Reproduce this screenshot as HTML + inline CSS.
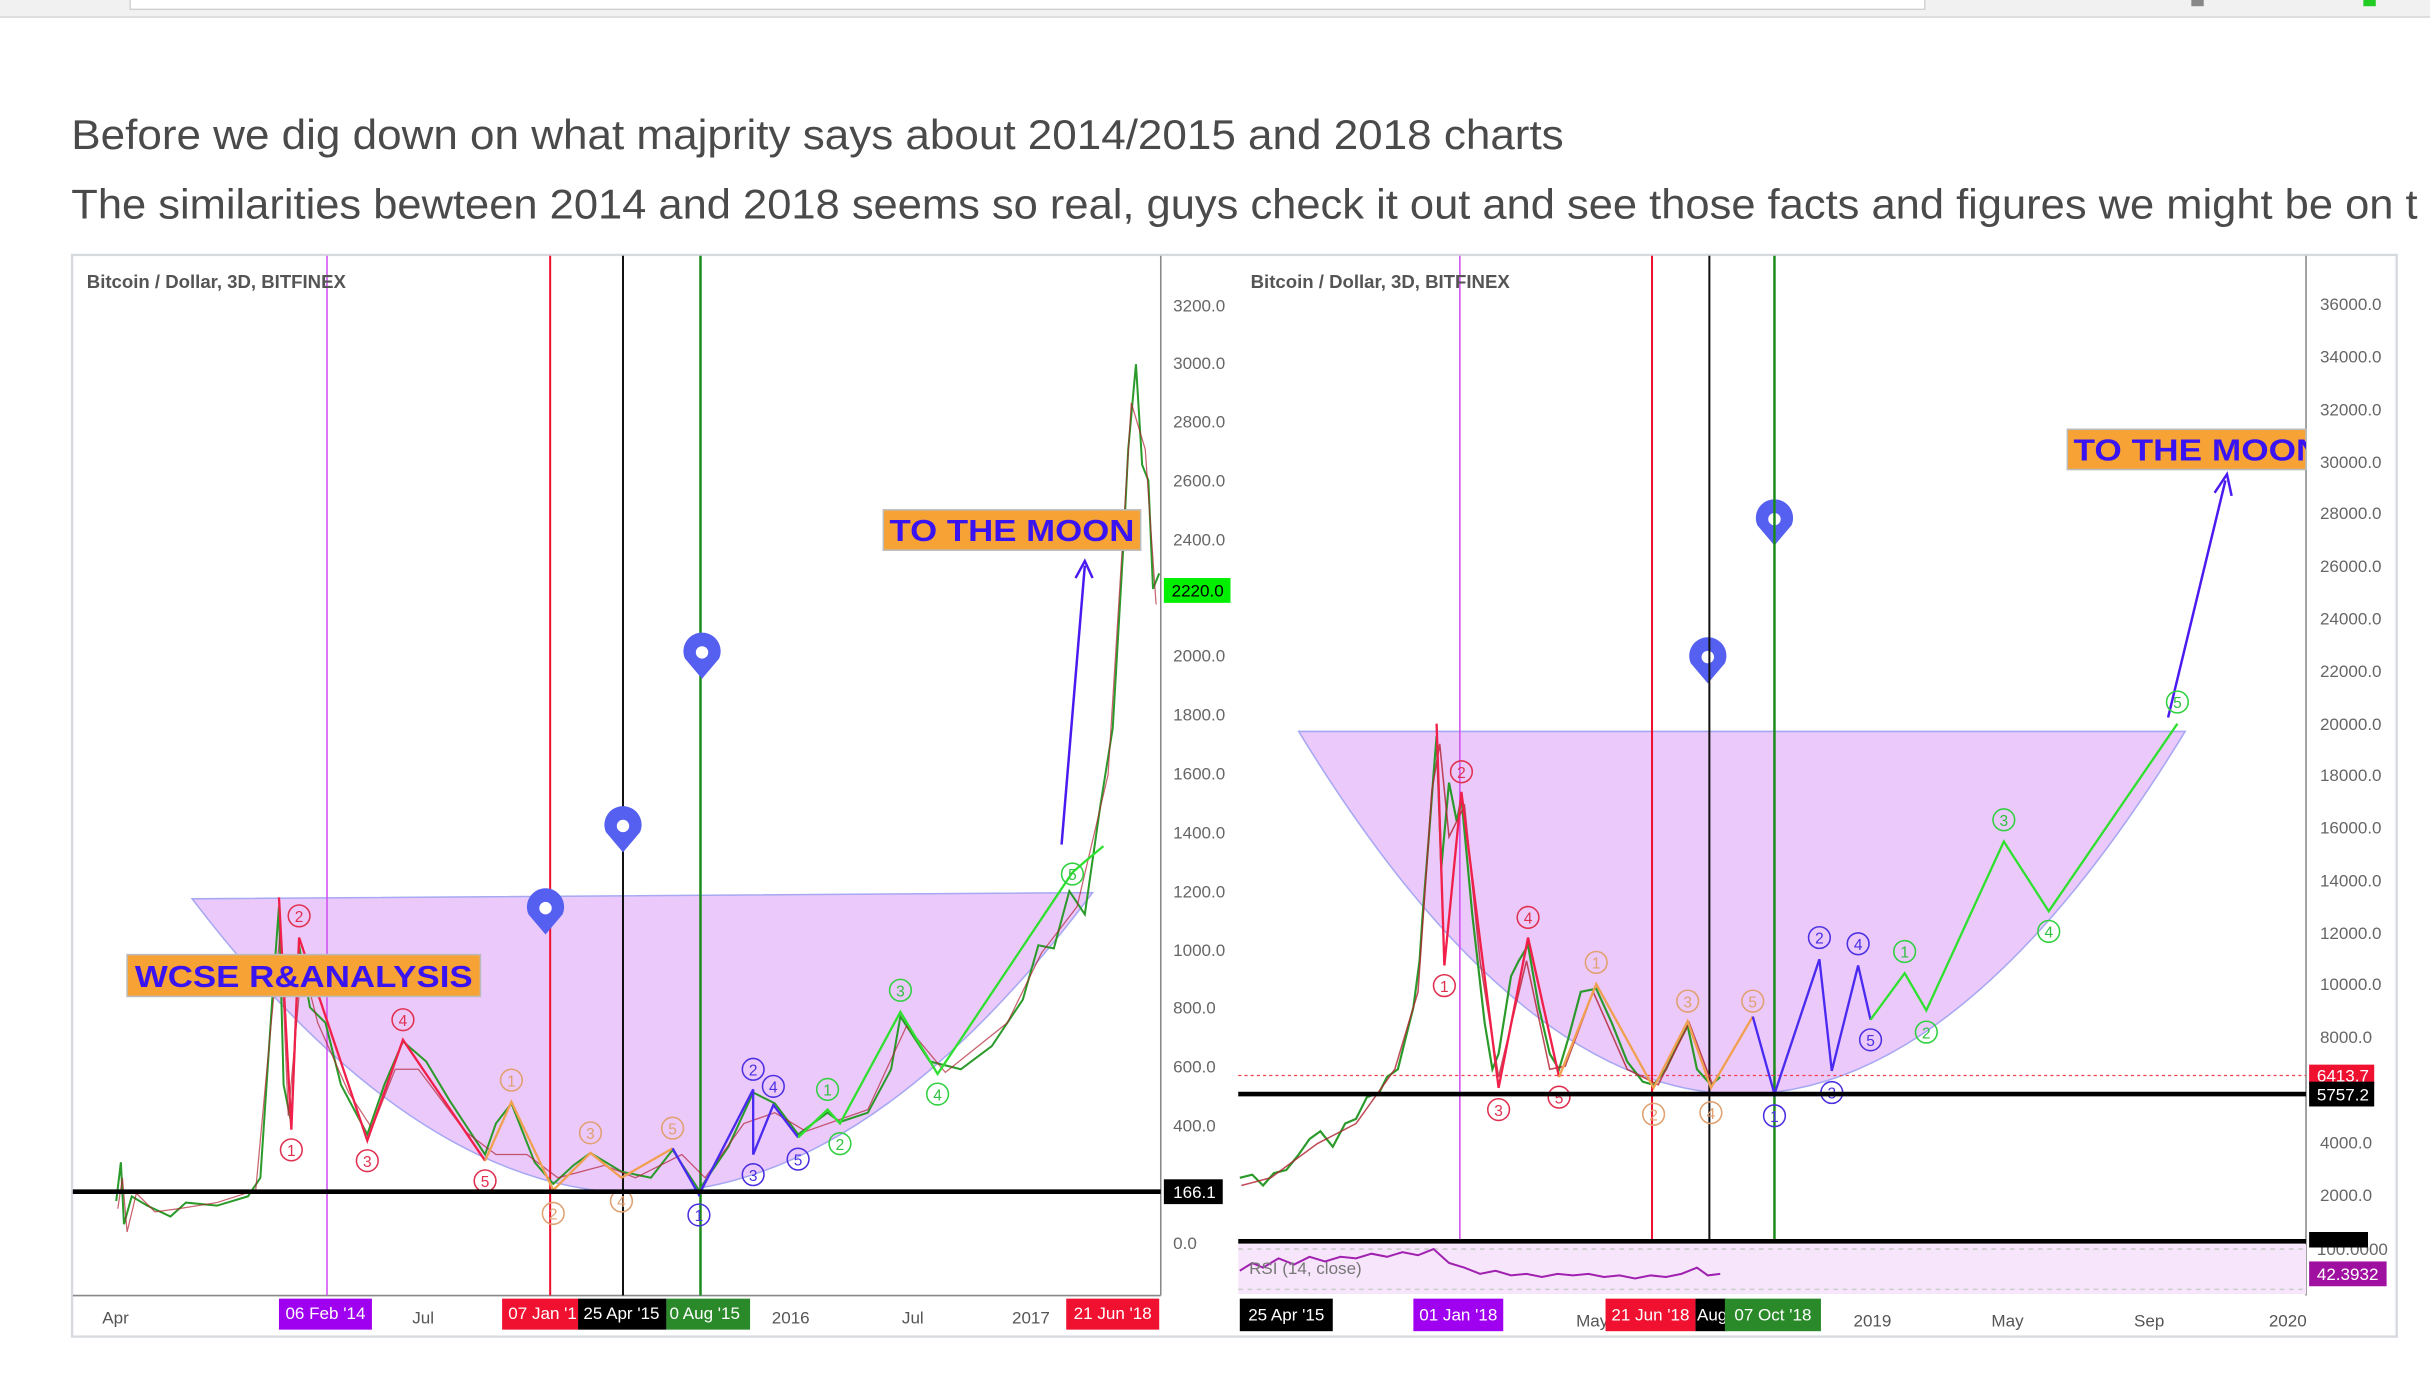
<!DOCTYPE html>
<html><head><meta charset="utf-8"><style>
html,body{margin:0;padding:0;background:#fff;width:2430px;height:1380px;overflow:hidden}
svg{display:block}
text{font-family:"Liberation Sans",sans-serif}
</style></head><body>
<svg width="2430" height="1380" viewBox="0 0 1568 890.5" preserveAspectRatio="none" xmlns="http://www.w3.org/2000/svg">
<rect x="0" y="0" width="1568" height="11" fill="#f1f1f1"/>
<line x1="0" y1="11" x2="1568" y2="11" stroke="#d8d8d8" stroke-width="1"/>
<rect x="84" y="-2" width="1158" height="8" fill="#fff" stroke="#ccc" stroke-width="0.8"/>
<rect x="1414" y="0" width="8" height="4" fill="#888"/>
<rect x="1525" y="0" width="8" height="4" fill="#2c2"/>
<text x="46" y="96" font-size="27" fill="#4a4a4a" textLength="963" lengthAdjust="spacingAndGlyphs">Before we dig down on what majprity says about 2014/2015 and 2018 charts</text>
<text x="46" y="141" font-size="27" fill="#4a4a4a" textLength="1514" lengthAdjust="spacingAndGlyphs">The similarities bewteen 2014 and 2018 seems so real, guys check it out and see those facts and figures we might be on t</text>

<rect x="46.5" y="164.5" width="1500" height="698" fill="#fff" stroke="#d6d9de" stroke-width="1.5"/>

<!-- LEFT CHART -->
<line x1="749" y1="165" x2="749" y2="836" stroke="#888" stroke-width="1"/>
<line x1="47" y1="836" x2="749" y2="836" stroke="#888" stroke-width="1"/>
<path d="M124,580 L705,576 Q415,962 124,580 Z" fill="#ecc9fb" stroke="#a6a8f2" stroke-width="1"/>
<line x1="211" y1="165" x2="211" y2="836" stroke="#d050f0" stroke-width="1"/>
<line x1="355" y1="165" x2="355" y2="836" stroke="#f01030" stroke-width="1.3"/>
<line x1="402" y1="165" x2="402" y2="836" stroke="#111" stroke-width="1.3"/>
<line x1="452" y1="165" x2="452" y2="836" stroke="#1a8a1a" stroke-width="1.6"/>
<text x="56" y="186" font-size="12" font-weight="bold" fill="#555">Bitcoin / Dollar, 3D, BITFINEX</text>
<polyline fill="none" stroke="#2a9a2a" stroke-width="1.3" points="75,775 78,750 80,790 85,772 95,778 110,785 120,776 140,778 160,772 168,760 172,700 176,640 180,585 183,700 188,725 193,610 200,650 210,660 220,700 237,732 248,700 260,672 275,685 290,710 313,745 320,725 330,712 345,750 357,764 370,752 381,744 401,756 420,760 434,742 451,768 470,740 486,705 500,712 515,732 534,718 542,724 560,718 575,690 581,656 600,685 620,690 640,675 660,645 670,610 680,612 690,575 700,590 710,520 718,470 725,350 728,290 733,235 737,300 741,310 744,380 748,370"/>
<polyline fill="none" stroke="#b02030" stroke-width="0.8" opacity="0.7" points="76,780 79,760 82,795 88,770 100,782 115,780 140,776 165,768 175,660 181,600 186,720 195,620 205,660 225,705 240,728 255,690 270,690 300,730 320,745 340,745 360,760 390,752 410,760 440,745 455,760 480,725 500,718 520,730 560,716 585,662 610,692 650,660 672,615 695,585 715,500 730,260 739,290 746,390"/>
<g fill="none" stroke-width="1.5">
<polyline stroke="#f0204a" points="180,579 188,729 193,605 237,736 260,671 313,749"/>
<polyline stroke="#f0a050" points="313,749 330,711 357,768 381,744 401,760 434,741"/>
<polyline stroke="#4a2af0" points="434,741 451,771 486,703 486,745 499,713 515,734"/>
<polyline stroke="#30e030" points="515,734 534,716 542,725 581,653 605,693 692,563 700,556 712,546"/>
</g>
<line x1="685" y1="545" x2="700" y2="365" stroke="#4a1af0" stroke-width="1.6"/>
<polyline points="694,373 700,362 705,373" fill="none" stroke="#4a1af0" stroke-width="1.6"/>
<g fill="none" stroke-width="1">
<g stroke="#e03050"><circle cx="188" cy="742" r="7"/><circle cx="193" cy="591" r="7"/><circle cx="237" cy="749" r="7"/><circle cx="260" cy="658" r="7"/><circle cx="313" cy="762" r="7"/></g>
<g stroke="#e0a070"><circle cx="330" cy="697" r="7"/><circle cx="357" cy="783" r="7"/><circle cx="381" cy="731" r="7"/><circle cx="401" cy="775" r="7"/><circle cx="434" cy="728" r="7"/></g>
<g stroke="#4a30e0"><circle cx="451" cy="784" r="7"/><circle cx="486" cy="690" r="7"/><circle cx="486" cy="758" r="7"/><circle cx="499" cy="701" r="7"/><circle cx="515" cy="748" r="7"/></g>
<g stroke="#30d040"><circle cx="534" cy="703" r="7"/><circle cx="542" cy="738" r="7"/><circle cx="581" cy="639" r="7"/><circle cx="605" cy="706" r="7"/><circle cx="692" cy="564" r="7"/></g>
</g>
<g font-size="10" text-anchor="middle">
<g fill="#e03050"><text x="188" y="746">1</text><text x="193" y="595">2</text><text x="237" y="753">3</text><text x="260" y="662">4</text><text x="313" y="766">5</text></g>
<g fill="#e0a070"><text x="330" y="701">1</text><text x="357" y="787">2</text><text x="381" y="735">3</text><text x="401" y="779">4</text><text x="434" y="732">5</text></g>
<g fill="#4a30e0"><text x="451" y="788">1</text><text x="486" y="694">2</text><text x="486" y="762">3</text><text x="499" y="705">4</text><text x="515" y="752">5</text></g>
<g fill="#30c040"><text x="534" y="707">1</text><text x="542" y="742">2</text><text x="581" y="643">3</text><text x="605" y="710">4</text><text x="692" y="568">5</text></g>
</g>
<line x1="47" y1="769" x2="749" y2="769" stroke="#000" stroke-width="3"/>
<g fill="#5560f0">
<path d="M352,603 L341,590 A12,12 0 1 1 363,590 Z"/><circle cx="352" cy="586" r="4" fill="#fff"/>
<path d="M402,550 L391,537 A12,12 0 1 1 413,537 Z"/><circle cx="402" cy="533" r="4" fill="#fff"/>
<path d="M453,438 L442,425 A12,12 0 1 1 464,425 Z"/><circle cx="453" cy="421" r="4" fill="#fff"/>
<path d="M1067,530 L1056,517 A12,12 0 1 1 1078,517 Z"/><circle cx="1067" cy="513" r="4" fill="#fff"/>
<path d="M1102,441 L1091,428 A12,12 0 1 1 1113,428 Z"/><circle cx="1102" cy="424" r="4" fill="#fff"/>
<path d="M1145,352 L1134,339 A12,12 0 1 1 1156,339 Z"/><circle cx="1145" cy="335" r="4" fill="#fff"/>
</g>
<rect x="570" y="329" width="166" height="26" fill="#f7a235" stroke="#bbb"/>
<text x="653" y="349" font-size="20" font-weight="bold" fill="#3a14f0" text-anchor="middle" textLength="158" lengthAdjust="spacingAndGlyphs">TO THE MOON</text>
<rect x="82" y="616" width="228" height="27" fill="#f7a235" stroke="#bbb"/>
<text x="196" y="637" font-size="20" font-weight="bold" fill="#3a14f0" text-anchor="middle" textLength="218" lengthAdjust="spacingAndGlyphs">WCSE R&amp;ANALYSIS</text>
<g font-size="11" fill="#666">
<text x="757" y="201">3200.0</text><text x="757" y="238">3000.0</text><text x="757" y="276">2800.0</text><text x="757" y="314">2600.0</text><text x="757" y="352">2400.0</text><text x="757" y="427">2000.0</text><text x="757" y="465">1800.0</text><text x="757" y="503">1600.0</text><text x="757" y="541">1400.0</text><text x="757" y="579">1200.0</text><text x="757" y="617">1000.0</text><text x="757" y="654">800.0</text><text x="757" y="692">600.0</text><text x="757" y="730">400.0</text><text x="757" y="806">0.0</text>
</g>
<rect x="751" y="373" width="43" height="16" fill="#00f000"/><text x="756" y="385" font-size="11" fill="#000">2220.0</text>
<rect x="751" y="761" width="38" height="16" fill="#000"/><text x="757" y="773" font-size="11" fill="#fff">166.1</text>
<g font-size="11" fill="#555"><text x="66" y="854">Apr</text><text x="266" y="854">Jul</text><text x="498" y="854">2016</text><text x="582" y="854">Jul</text><text x="653" y="854">2017</text></g>
<rect x="180" y="838" width="60" height="20" fill="#a000f0"/><text x="210" y="851" font-size="11" fill="#fff" text-anchor="middle">06 Feb '14</text>
<rect x="324" y="838" width="49" height="20" fill="#f01030"/><text x="328" y="851" font-size="11" fill="#fff">07 Jan '1</text>
<rect x="373" y="838" width="57" height="20" fill="#000"/><text x="401" y="851" font-size="11" fill="#fff" text-anchor="middle">25 Apr '15</text>
<rect x="430" y="838" width="54" height="20" fill="#2a8a2a"/><text x="432" y="851" font-size="11" fill="#fff">0 Aug '15</text>
<rect x="688" y="838" width="60" height="20" fill="#f01030"/><text x="718" y="851" font-size="11" fill="#fff" text-anchor="middle">21 Jun '18</text>

<!-- RIGHT CHART -->
<line x1="1488" y1="165" x2="1488" y2="836" stroke="#888" stroke-width="1"/>
<path d="M838,472 L1410,472 Q1124,940 838,472 Z" fill="#ecc9fb" stroke="#a6a8f2" stroke-width="1"/>
<rect x="799" y="803" width="689" height="32" fill="#f7e6fb"/>
<line x1="799" y1="806" x2="1488" y2="806" stroke="#ccc" stroke-dasharray="3,3"/>
<line x1="799" y1="832" x2="1488" y2="832" stroke="#ccc" stroke-dasharray="3,3"/>
<line x1="942" y1="165" x2="942" y2="800" stroke="#d050f0" stroke-width="1"/>
<line x1="1066" y1="165" x2="1066" y2="800" stroke="#f01030" stroke-width="1.3"/>
<line x1="1103" y1="165" x2="1103" y2="800" stroke="#111" stroke-width="1.3"/>
<line x1="1145" y1="165" x2="1145" y2="800" stroke="#1a8a1a" stroke-width="1.6"/>
<text x="807" y="186" font-size="12" font-weight="bold" fill="#555">Bitcoin / Dollar, 3D, BITFINEX</text>
<line x1="799" y1="694" x2="1488" y2="694" stroke="#f04050" stroke-width="0.8" stroke-dasharray="2,2"/>
<polyline fill="none" stroke="#2a9a2a" stroke-width="1.4" points="800,760 808,758 815,765 822,757 830,755 838,745 845,735 852,730 860,740 868,725 875,722 882,708 890,705 895,695 902,690 907,670 912,650 916,620 918,590 922,540 925,500 927,475 930,560 935,505 940,530 943,515 950,590 958,660 963,690 967,680 975,630 980,620 986,610 993,650 1000,680 1006,690 1012,670 1020,640 1030,638 1040,660 1050,685 1060,698 1067,700 1075,690 1082,675 1089,662 1095,690 1104,700 1110,695"/>
<polyline fill="none" stroke="#b02030" stroke-width="1" opacity="0.8" points="801,765 820,760 850,738 875,725 900,690 915,640 924,510 929,480 935,540 945,520 955,620 967,695 985,620 1000,690 1010,688 1028,640 1050,690 1070,700 1090,660 1105,700"/>
<g fill="none" stroke-width="1.5">
<polyline stroke="#f0204a" points="927,467 932,623 943,511 967,702 986,605 1006,695"/>
<polyline stroke="#f0a050" points="1006,695 1030,635 1067,702 1089,659 1104,702 1131,656"/>
<polyline stroke="#4a2af0" points="1131,656 1145,706 1174,619 1182,691 1199,623 1207,658"/>
<polyline stroke="#30e030" points="1207,658 1229,628 1243,652 1293,543 1322,588 1405,467"/>
</g>
<line x1="1399" y1="463" x2="1436" y2="310" stroke="#4a1af0" stroke-width="1.6"/>
<polyline points="1429,318 1437,306 1440,320" fill="none" stroke="#4a1af0" stroke-width="1.6"/>
<g fill="none" stroke-width="1">
<g stroke="#e03050"><circle cx="932" cy="636" r="7"/><circle cx="943" cy="498" r="7"/><circle cx="967" cy="716" r="7"/><circle cx="986" cy="592" r="7"/><circle cx="1006" cy="708" r="7"/></g>
<g stroke="#e0a070"><circle cx="1030" cy="621" r="7"/><circle cx="1067" cy="719" r="7"/><circle cx="1089" cy="646" r="7"/><circle cx="1104" cy="718" r="7"/><circle cx="1131" cy="646" r="7"/></g>
<g stroke="#4a30e0"><circle cx="1145" cy="720" r="7"/><circle cx="1174" cy="605" r="7"/><circle cx="1182" cy="705" r="7"/><circle cx="1199" cy="609" r="7"/><circle cx="1207" cy="671" r="7"/></g>
<g stroke="#30d040"><circle cx="1229" cy="614" r="7"/><circle cx="1243" cy="666" r="7"/><circle cx="1293" cy="529" r="7"/><circle cx="1322" cy="601" r="7"/><circle cx="1405" cy="453" r="7"/></g>
</g>
<g font-size="10" text-anchor="middle">
<g fill="#e03050"><text x="932" y="640">1</text><text x="943" y="502">2</text><text x="967" y="720">3</text><text x="986" y="596">4</text><text x="1006" y="712">5</text></g>
<g fill="#e0a070"><text x="1030" y="625">1</text><text x="1067" y="723">2</text><text x="1089" y="650">3</text><text x="1104" y="722">4</text><text x="1131" y="650">5</text></g>
<g fill="#4a30e0"><text x="1145" y="724">1</text><text x="1174" y="609">2</text><text x="1182" y="709">3</text><text x="1199" y="613">4</text><text x="1207" y="675">5</text></g>
<g fill="#30c040"><text x="1229" y="618">1</text><text x="1243" y="670">2</text><text x="1293" y="533">3</text><text x="1322" y="605">4</text><text x="1405" y="457">5</text></g>
</g>
<line x1="799" y1="706" x2="1488" y2="706" stroke="#000" stroke-width="3"/>
<line x1="799" y1="801" x2="1488" y2="801" stroke="#000" stroke-width="3"/>
<polyline fill="none" stroke="#a020b0" stroke-width="1.3" points="800,820 808,815 815,818 825,812 835,816 845,811 855,814 865,811 875,812 885,809 895,811 905,808 915,810 925,806 935,815 945,818 955,822 965,820 975,823 985,822 995,824 1005,822 1015,823 1025,822 1035,824 1045,823 1055,825 1065,823 1075,824 1085,822 1095,818 1102,823 1110,822"/>
<text x="806" y="822" font-size="11" fill="#777">RSI (14, close)</text>
<clipPath id="cl"><rect x="1334" y="270" width="154" height="40"/></clipPath>
<rect x="1334" y="277" width="154" height="26" fill="#f7a235" stroke="#bbb"/>
<text x="1338" y="297" font-size="20" font-weight="bold" fill="#3a14f0" textLength="160" lengthAdjust="spacingAndGlyphs" clip-path="url(#cl)">TO THE MOON</text>
<g font-size="11" fill="#666">
<text x="1497" y="200">36000.0</text><text x="1497" y="234">34000.0</text><text x="1497" y="268">32000.0</text><text x="1497" y="302">30000.0</text><text x="1497" y="335">28000.0</text><text x="1497" y="369">26000.0</text><text x="1497" y="403">24000.0</text><text x="1497" y="437">22000.0</text><text x="1497" y="471">20000.0</text><text x="1497" y="504">18000.0</text><text x="1497" y="538">16000.0</text><text x="1497" y="572">14000.0</text><text x="1497" y="606">12000.0</text><text x="1497" y="639">10000.0</text><text x="1497" y="673">8000.0</text><text x="1497" y="741">4000.0</text><text x="1497" y="775">2000.0</text><text x="1495" y="810">100.0000</text>
</g>
<rect x="1490" y="687" width="42" height="13" fill="#f01030"/><text x="1495" y="698" font-size="11" fill="#fff">6413.7</text>
<rect x="1490" y="698" width="42" height="16" fill="#000"/><text x="1495" y="710" font-size="11" fill="#fff">5757.2</text>
<rect x="1490" y="795" width="38" height="10" fill="#000"/>
<rect x="1490" y="814" width="50" height="16" fill="#a010a0"/><text x="1495" y="826" font-size="11" fill="#fff">42.3932</text>
<g font-size="11" fill="#555"><text x="1017" y="856">May</text><text x="1196" y="856">2019</text><text x="1285" y="856">May</text><text x="1377" y="856">Sep</text><text x="1464" y="856">2020</text></g>
<rect x="800" y="838" width="60" height="21" fill="#000"/><text x="830" y="852" font-size="11" fill="#fff" text-anchor="middle">25 Apr '15</text>
<rect x="912" y="838" width="58" height="21" fill="#a000f0"/><text x="941" y="852" font-size="11" fill="#fff" text-anchor="middle">01 Jan '18</text>
<rect x="1094" y="838" width="20" height="21" fill="#000"/><text x="1095" y="852" font-size="11" fill="#fff">Aug</text>
<rect x="1036" y="838" width="58" height="21" fill="#f01030"/><text x="1065" y="852" font-size="11" fill="#fff" text-anchor="middle">21 Jun '18</text>
<rect x="1113" y="838" width="62" height="21" fill="#2a8a2a"/><text x="1144" y="852" font-size="11" fill="#fff" text-anchor="middle">07 Oct '18</text>
</svg>
</body></html>
